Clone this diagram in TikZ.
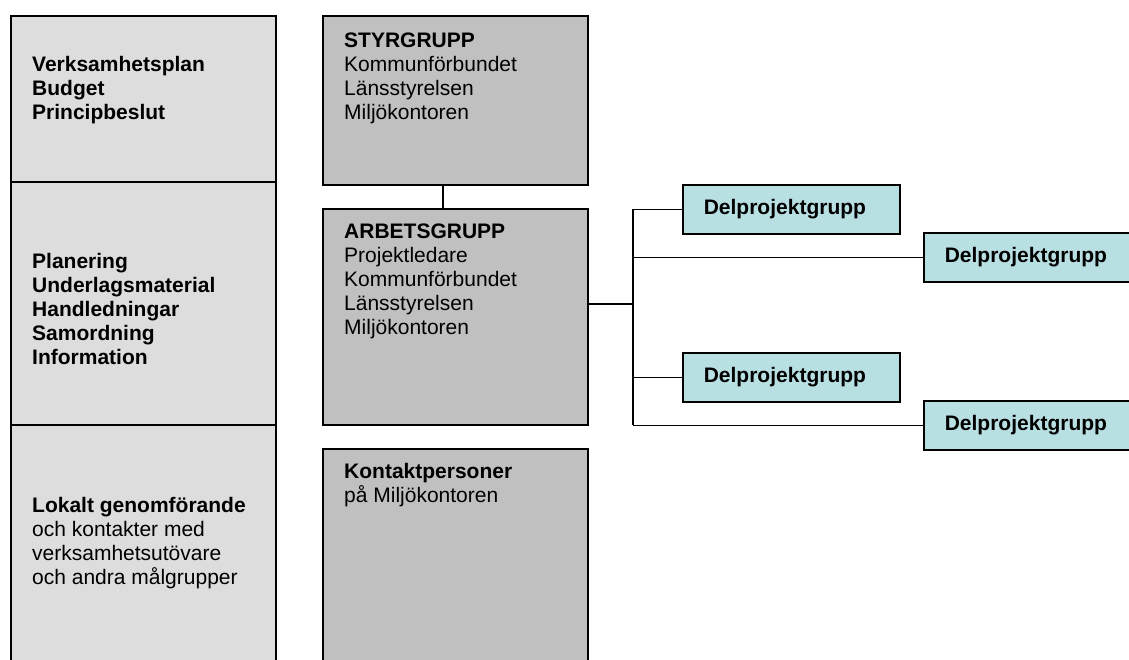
\documentclass[tikz,border=0pt]{standalone}
\usepackage{fontspec}
\setmainfont{Liberation Sans}
\definecolor{leftgray}{HTML}{DDDDDD}
\definecolor{midgray}{HTML}{C0C0C0}
\definecolor{teal}{HTML}{B8DFE2}
\newcommand{\lines}[1]{\parbox[t]{240pt}{\raggedright #1}}
\begin{document}
\begin{tikzpicture}[x=1pt,y=-1pt,
  every node/.style={font=\fontsize{21}{24}\selectfont},
  colbox/.style={draw=black,line width=1.6pt,fill=leftgray,rectangle,anchor=north west,inner sep=0pt},
  midbox/.style={draw=black,line width=1.6pt,fill=midgray,rectangle,anchor=north west,inner sep=0pt,minimum width=265pt},
  subbox/.style={draw=black,line width=1.6pt,fill=teal,rectangle,anchor=north west,inner xsep=21pt,inner ysep=0pt,minimum height=49pt,text width=175pt,align=left,font=\fontsize{21}{24}\selectfont\bfseries},
  txt/.style={anchor=base west,inner sep=0pt},
  conn/.style={draw=black,line width=1.6pt}]
\clip (0,0) rectangle (1129,659);
% left column
\node[colbox,minimum width=265pt,minimum height=166pt] (l1) at (10,15) {};
\node[colbox,minimum width=265pt,minimum height=243pt] (l2) at (10,181) {};
\node[colbox,minimum width=265pt,minimum height=260pt] (l3) at (10,424) {};
\node[txt,font=\fontsize{21}{24}\selectfont\bfseries] (t1) at (32,71) {\lines{Verksamhetsplan\\Budget\\Principbeslut}};
\node[txt,font=\fontsize{21}{24}\selectfont\bfseries] (t2) at (32,268) {\lines{Planering\\Underlagsmaterial\\Handledningar\\Samordning\\Information}};
\node[txt] (t3) at (32,512) {\lines{\textbf{Lokalt genomförande}\\och kontakter med\\verksamhetsutövare\\och andra målgrupper}};
% middle column
\node[midbox,minimum height=169pt] (styr) at (322,15) {};
\node[midbox,minimum height=216pt] (arb) at (322,208) {};
\node[midbox,minimum height=240pt] (kont) at (322,448) {};
\node[txt] (ts) at (344,47) {\lines{\textbf{STYRGRUPP}\\Kommunförbundet\\Länsstyrelsen\\Miljökontoren}};
\node[txt] (ta) at (344,238) {\lines{\textbf{ARBETSGRUPP}\\Projektledare\\Kommunförbundet\\Länsstyrelsen\\Miljökontoren}};
\node[txt] (tk) at (344,478) {\lines{\textbf{Kontaktpersoner}\\på Miljökontoren}};
% sub groups
\node[subbox] (d1) at (682,184) {Delprojektgrupp};
\node[subbox] (d2) at (923,232) {Delprojektgrupp};
\node[subbox] (d3) at (682,352) {Delprojektgrupp};
\node[subbox] (d4) at (923,400) {Delprojektgrupp};
% connectors
\coordinate (sx) at (443,0);
\coordinate (hub) at (633,304);
\draw[conn] (styr.south -| sx) -- (arb.north -| sx);
\draw[conn] (arb.east |- hub) -- (hub);
\draw[conn] (hub |- d1.west) -- (hub |- d4.west);
\draw[conn] (hub |- d1.west) -- (d1.west);
\draw[conn] (hub |- d2.west) -- (d2.west);
\draw[conn] (hub |- d3.west) -- (d3.west);
\draw[conn] (hub |- d4.west) -- (d4.west);
\end{tikzpicture}
\end{document}
